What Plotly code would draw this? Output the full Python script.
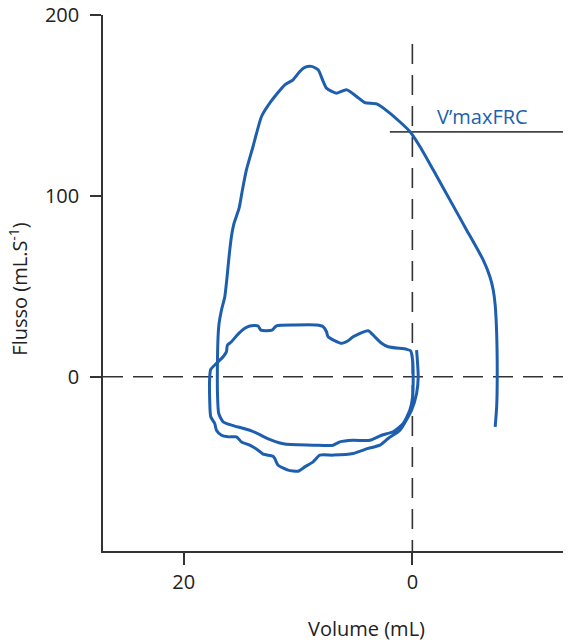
import plotly.graph_objects as go

# Flow-volume loop (Volume in mL, Flow in mL/s)
volume = [-0.37, -0.51, -0.37, 0.07, 1.09, 2.12, 2.84, 3.87, 5.18, 6.93, 8.09, 8.68, 9.41, 9.99,
          10.87, 11.74, 12.03, 12.18, 13.05, 13.49, 14.22, 14.94, 15.38, 16.12, 16.69, 17.13,
          17.28, 17.63, 17.72, 17.72, 17.63, 17.13, 16.55, 16.26, 16.17, 15.82, 15.24, 14.65,
          14.22, 13.49, 13.25, 12.27, 11.88, 10.28, 8.38, 7.80, 7.51, 7.37, 6.19, 5.62, 5.18,
          3.87, 3.28, 2.69, 2.12, 0.51, 0.16, -0.02, -0.07, -0.02, 0.22, 0.80, 1.68, 2.69, 3.72,
          5.18, 6.34, 6.93, 8.53, 11.15, 12.32, 14.07, 15.82, 16.55, 16.93, 17.04, 17.04, 16.99,
          16.90, 16.69, 16.40, 16.20, 16.03, 15.82, 15.59, 15.15, 14.86, 14.51, 13.93, 13.19,
          12.47, 11.15, 10.43, 9.84, 9.41, 8.82, 8.24, 7.80, 7.51, 6.63, 5.76, 4.88, 4.16, 3.13,
          1.97, 0.22, -0.66, -1.82, -3.28, -4.74, -6.19, -6.78, -7.07, -7.24, -7.37, -7.42,
          -7.37, -7.24]
flow = [14.8, 0.0, -9.2, -18.4, -29.5, -34.1, -37.8, -39.6, -42.4, -43.3, -43.3, -47.0, -49.8,
        -52.2, -51.6, -48.9, -45.2, -43.9, -42.8, -40.6, -37.8, -36.0, -33.2, -33.2, -32.3,
        -29.5, -25.8, -22.1, -12.9, 0.0, 4.1, 7.4, 11.1, 13.8, 17.5, 19.4, 23.6, 26.8, 28.1,
        28.1, 25.8, 25.8, 28.1, 28.6, 28.6, 27.7, 24.9, 22.1, 18.5, 19.9, 22.1, 25.5, 22.1,
        18.5, 16.6, 15.2, 14.4, 9.2, 0.0, -11.1, -18.4, -25.8, -30.4, -32.3, -35.1, -35.1,
        -36.0, -37.8, -37.8, -37.2, -35.0, -29.9, -26.7, -24.9, -20.3, -9.2, 9.2, 22.1, 29.6,
        36.9, 44.3, 55.3, 66.4, 77.5, 84.9, 93.2, 103.3, 114.4, 127.3, 143.9, 151.3, 161.4,
        164.2, 168.8, 171.0, 171.6, 169.7, 163.3, 159.6, 156.8, 158.7, 155.0, 151.6, 150.9,
        145.8, 135.6, 127.3, 114.4, 97.8, 81.2, 64.6, 55.3, 48.0, 39.7, 24.0, 0.0, -16.6, -27.7]

x_tickvals = [20, 0]
y_tickvals = [0, 100, 200]
vmax_frc = 135.4
vmax_label = "V\u2019maxFRC"

X_RANGE = [27.05, -13.87]
Y_RANGE = [-96.3, 200]

BLUE = "#1d5fae"
DARK = "#333333"
FONT = "Open Sans"

fig = go.Figure()
fig.add_trace(go.Scatter(x=volume, y=flow, mode="lines",
                         line=dict(color=BLUE, width=3, shape="spline", smoothing=0.6),
                         hoverinfo="skip", showlegend=False))

shapes = [
    dict(type="line", xref="x", yref="y", x0=X_RANGE[0], x1=X_RANGE[1], y0=0, y1=0,
         line=dict(color=DARK, width=1.6, dash="20px,10px"), layer="below"),
    dict(type="line", xref="x", yref="y", x0=0, x1=0, y0=184, y1=Y_RANGE[0],
         line=dict(color=DARK, width=1.6, dash="20px,11px"), layer="below"),
    dict(type="line", xref="x", yref="y", x0=1.97, x1=X_RANGE[1], y0=vmax_frc, y1=vmax_frc,
         line=dict(color="#444444", width=1.6), layer="below"),
]

annotations = [
    dict(text=vmax_label, x=-6.1, y=144, xref="x", yref="y", showarrow=False,
         font=dict(family=FONT, size=20, color=BLUE), xanchor="center", yanchor="middle"),
    dict(text="Volume (mL)", x=0.564, y=-0.1437, xref="paper", yref="paper", showarrow=False,
         font=dict(family=FONT, size=20, color="#222222"), xanchor="center", yanchor="middle"),
    dict(text="Flusso (mL.S<sup>-1</sup>)", x=-0.181, y=0.49, xref="paper", yref="paper",
         showarrow=False, textangle=-90,
         font=dict(family=FONT, size=20, color="#222222"), xanchor="center", yanchor="middle"),
]

# the page body has an 8px default margin, so the figure is sized to fit the window
fig.update_layout(
    width=563, height=633,
    margin=dict(l=95, r=0, t=7, b=90),
    paper_bgcolor="white", plot_bgcolor="white",
    font=dict(family=FONT, size=20, color="#222222"),
    shapes=shapes, annotations=annotations,
    showlegend=False,
)
fig.update_xaxes(range=X_RANGE, tickvals=x_tickvals, ticktext=[str(v) for v in x_tickvals],
                 showline=True, linecolor=DARK, linewidth=1.5, ticks="outside", ticklen=12,
                 tickwidth=1.5, tickcolor=DARK, showgrid=False, zeroline=False,
                 ticklabelstandoff=0, ticklabeloverflow="allow", automargin=False)
fig.update_yaxes(range=Y_RANGE, tickvals=y_tickvals, ticktext=[str(v) for v in y_tickvals],
                 showline=True, linecolor=DARK, linewidth=1.5, ticks="outside", ticklen=11,
                 tickwidth=1.5, tickcolor=DARK, showgrid=False, zeroline=False,
                 ticklabelstandoff=7, ticklabeloverflow="allow", automargin=False)

fig.write_html("out.html")
